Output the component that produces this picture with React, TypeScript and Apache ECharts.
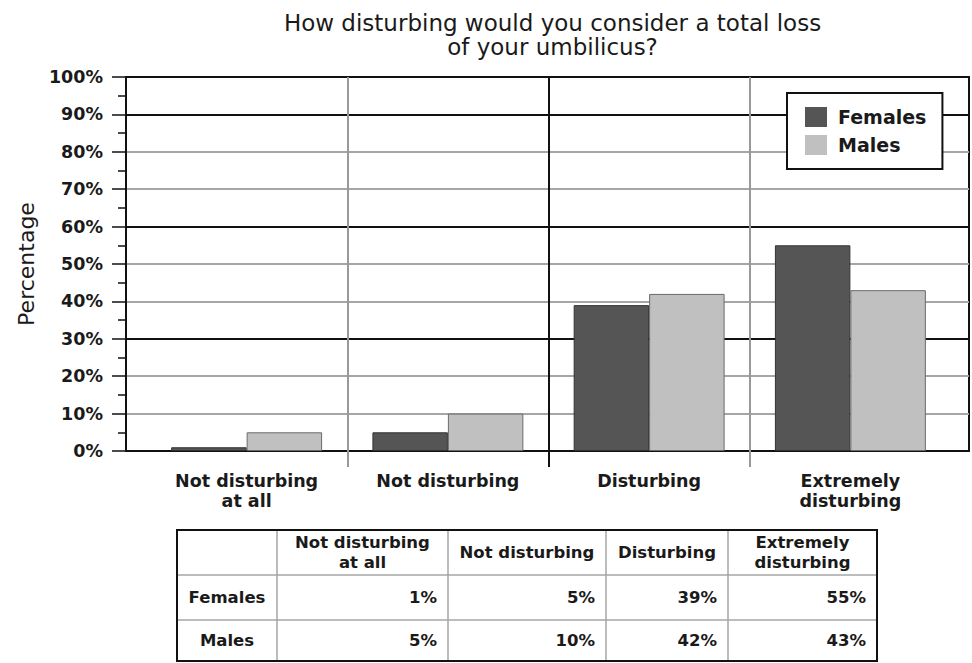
import React, { useEffect, useRef } from "react";
import * as echarts from "echarts";

// ---------- data ----------
const categories = ["Not disturbing\nat all", "Not disturbing", "Disturbing", "Extremely\ndisturbing"];
const seriesNames = ["Females", "Males"];
const females = [1, 5, 39, 55];
const males = [5, 10, 42, 43];
const tableHeaders = ["", "Not disturbing\nat all", "Not disturbing", "Disturbing", "Extremely\ndisturbing"];
const titleText = "How disturbing would you consider a total loss\nof your umbilicus?";
const yAxisName = "Percentage";

// ---------- layout / style ----------
const W = 972;
const H = 663;
const plotLeft = 126;
const plotRight = 969;
const plotTop = 77;
const zeroY = 451;
const bandLeft = 146;
const bandRight = 951;
const sepBelow = 16;
const yMinB = (-sepBelow * 100) / (zeroY - plotTop);

const FONT = "DejaVu Sans";
const TXT = "#1a1a1a";
const BLACK = "#111111";
const GRAY = "#a6a6a6";
const FEMALE = "#555555";
const MALE = "#c0c0c0";

const tableCols = [177, 277, 448, 606, 728, 877];
const tableRows = [530, 575, 620, 661];

function buildTable(): any[] {
  const els: any[] = [];
  const x0 = tableCols[0];
  const x1 = tableCols[tableCols.length - 1];
  const y0 = tableRows[0];
  const y1 = tableRows[tableRows.length - 1];
  for (let i = 1; i < tableCols.length - 1; i++) {
    els.push({
      type: "line",
      shape: { x1: tableCols[i], y1: y0, x2: tableCols[i], y2: y1 },
      style: { stroke: GRAY, lineWidth: 1.5 },
    });
  }
  for (let j = 1; j < tableRows.length - 1; j++) {
    els.push({
      type: "line",
      shape: { x1: x0, y1: tableRows[j], x2: x1, y2: tableRows[j] },
      style: { stroke: GRAY, lineWidth: 1.5 },
    });
  }
  els.push({
    type: "rect",
    shape: { x: x0, y: y0, width: x1 - x0, height: y1 - y0 },
    style: { fill: "none", stroke: BLACK, lineWidth: 2 },
  });
  const textStyle = (text: string, align: string) => ({
    text,
    fill: TXT,
    fontFamily: FONT,
    fontWeight: "bold",
    fontSize: 16.5,
    lineHeight: 20,
    align,
    verticalAlign: "middle",
  });
  tableHeaders.forEach((h, c) => {
    if (!h) return;
    els.push({
      type: "text",
      x: (tableCols[c] + tableCols[c + 1]) / 2,
      y: (tableRows[0] + tableRows[1]) / 2,
      style: textStyle(h, "center"),
    });
  });
  const rowsData = [females, males];
  rowsData.forEach((vals, r) => {
    const cy = (tableRows[r + 1] + tableRows[r + 2]) / 2;
    els.push({
      type: "text",
      x: (tableCols[0] + tableCols[1]) / 2,
      y: cy,
      style: textStyle(seriesNames[r], "center"),
    });
    vals.forEach((v, c) => {
      els.push({
        type: "text",
        x: tableCols[c + 2] - 11,
        y: cy,
        style: textStyle(v + "%", "right"),
      });
    });
  });
  return els;
}

export default function App() {
  const ref = useRef<HTMLDivElement>(null);
  useEffect(() => {
    if (!ref.current) return;
    const chart = echarts.init(ref.current, null, { renderer: "svg" });
    const option: any = {
      animation: false,
      backgroundColor: "#ffffff",
      title: {
        text: titleText,
        left: (plotLeft + plotRight) / 2,
        top: 6,
        textAlign: "center",
        textStyle: {
          fontFamily: FONT,
          fontWeight: "normal",
          fontSize: 23,
          lineHeight: 24,
          color: TXT,
        },
      },
      legend: {
        data: seriesNames,
        orient: "vertical",
        left: 787,
        top: 93,
        padding: [14, 16, 14, 18],
        itemWidth: 22,
        itemHeight: 20,
        itemGap: 8,
        icon: "rect",
        backgroundColor: "#ffffff",
        borderColor: BLACK,
        borderWidth: 2,
        borderRadius: 0,
        itemStyle: { borderWidth: 0 },
        textStyle: {
          fontFamily: FONT,
          fontWeight: "bold",
          fontSize: 19,
          color: TXT,
          padding: [0, 0, 0, 6],
        },
      },
      grid: [
        {
          left: plotLeft,
          right: W - plotRight,
          top: plotTop,
          bottom: H - zeroY,
          show: true,
          borderColor: BLACK,
          borderWidth: 2,
          backgroundColor: "transparent",
        },
        {
          left: bandLeft,
          right: W - bandRight,
          top: plotTop,
          bottom: H - zeroY - sepBelow,
        },
      ],
      xAxis: [
        { gridIndex: 0, type: "value", min: 0, max: 1, show: false },
        {
          gridIndex: 1,
          type: "category",
          data: categories,
          axisLine: { show: false },
          axisTick: { show: false },
          splitLine: {
            show: true,
            interval: 0,
            lineStyle: {
              color: ["rgba(0,0,0,0)", "#999999", BLACK, "#999999", "rgba(0,0,0,0)"],
              width: 2,
            },
          },
          axisLabel: {
            interval: 0,
            fontFamily: FONT,
            fontWeight: "bold",
            fontSize: 17.5,
            lineHeight: 20,
            color: TXT,
            margin: 4,
          },
        },
      ],
      yAxis: [
        {
          gridIndex: 0,
          type: "value",
          min: 0,
          max: 100,
          interval: 10,
          name: yAxisName,
          nameLocation: "middle",
          nameGap: 89,
          nameTextStyle: {
            fontFamily: FONT,
            fontSize: 22,
            color: TXT,
          },
          axisLine: { show: true, lineStyle: { color: BLACK, width: 2 } },
          axisTick: { show: true, length: 14, lineStyle: { color: BLACK, width: 1.5 } },
          minorTick: { show: true, splitNumber: 2, length: 8, lineStyle: { color: BLACK, width: 1.5 } },
          splitLine: {
            show: true,
            lineStyle: {
              color: [BLACK, GRAY, GRAY, BLACK, GRAY, GRAY, BLACK, GRAY, GRAY, BLACK, BLACK],
              width: 2,
            },
          },
          axisLabel: {
            formatter: "{value}%",
            fontFamily: FONT,
            fontWeight: "bold",
            fontSize: 17.5,
            color: TXT,
            margin: 23,
          },
        },
        { gridIndex: 1, type: "value", min: yMinB, max: 100, show: false },
      ],
      series: [
        {
          name: seriesNames[0],
          type: "bar",
          xAxisIndex: 1,
          yAxisIndex: 1,
          data: females,
          barGap: "0%",
          barCategoryGap: "25%",
          itemStyle: { color: FEMALE, borderColor: "#333333", borderWidth: 1 },
        },
        {
          name: seriesNames[1],
          type: "bar",
          xAxisIndex: 1,
          yAxisIndex: 1,
          data: males,
          barGap: "0%",
          barCategoryGap: "25%",
          itemStyle: { color: MALE, borderColor: "#6a6a6a", borderWidth: 1 },
        },
      ],
      graphic: buildTable(),
    };
    chart.setOption(option);
    return () => chart.dispose();
  }, []);
  return (
    <div
      ref={ref}
      style={{ position: "fixed", left: 0, top: 0, width: W, height: H, background: "#fff" }}
    />
  );
}
